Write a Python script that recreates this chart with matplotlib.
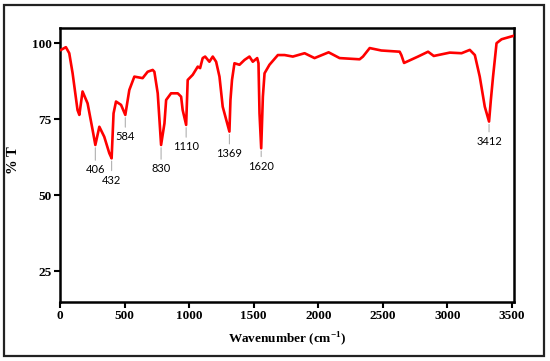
import matplotlib.pyplot as plt
from matplotlib.patches import Rectangle

plt.rcParams['mathtext.fontset'] = 'custom'
plt.rcParams['mathtext.rm'] = 'Liberation Serif:bold'

# FTIR spectrum
wavenumber = [8, 46, 72, 98, 136, 150, 175, 214, 253, 274, 305, 343, 382, 400,
              415, 434, 473, 506, 537, 576, 640, 679, 718, 731, 757, 783, 809,
              822, 860, 912, 938, 950, 977, 989, 1028, 1067, 1085, 1105, 1124,
              1157, 1183, 1209, 1235, 1260, 1312, 1320, 1332, 1351, 1390, 1429,
              1467, 1493, 1527, 1537, 1545, 1558, 1571, 1584, 1622, 1687, 1739,
              1803, 1894, 1971, 2080, 2165, 2320, 2346, 2398, 2488, 2630, 2643,
              2664, 2772, 2850, 2894, 3018, 3109, 3173, 3212, 3250, 3289, 3322,
              3336, 3353, 3380, 3419, 3509]
transmittance = [97.8, 98.7, 96.7, 90.1, 78.0, 76.4, 84.1, 80.2, 71.4, 66.5, 72.5,
                 69.2, 63.8, 62.1, 76.9, 80.8, 79.7, 76.4, 84.6, 89.0, 88.5, 90.6,
                 91.2, 90.6, 83.5, 66.5, 73.6, 81.3, 83.5, 83.5, 82.4, 78.0, 73.1,
                 87.9, 89.6, 92.3, 91.8, 95.1, 95.6, 93.9, 95.6, 93.9, 89.0, 79.1,
                 70.9, 81.3, 87.9, 93.4, 92.9, 94.5, 95.6, 93.9, 95.1, 93.4, 76.9,
                 65.4, 82.4, 90.1, 92.9, 96.1, 96.1, 95.6, 96.7, 95.1, 97.0, 95.1,
                 94.7, 95.6, 98.4, 97.6, 97.2, 96.1, 93.5, 95.6, 97.2, 95.8, 96.9,
                 96.7, 97.8, 96.1, 89.0, 79.1, 74.2, 81.3, 89.0, 100.0, 101.3, 102.4]

# peak labels (label text, position of the minimum on the plotted axis)
peak_text = ['406', '432', '584', '830', '1110', '1369', '1620', '3412']
peak_wn = [274, 400, 506, 783, 977, 1312, 1558, 3322]
peak_T = [66.5, 62.1, 76.4, 66.5, 73.1, 70.9, 65.4, 74.2]
peak_drop = [25, 22, 22, 24, 22, 22, 18, 20]  # px below minimum

x_ticks = [0, 500, 1000, 1500, 2000, 2500, 3000, 3500]
y_ticks = [25, 50, 75, 100]

serif = {'family': 'Liberation Serif', 'weight': 'bold'}

fig = plt.figure(figsize=(5.5, 3.61), dpi=100)
ax = fig.add_axes([0.109, 0.1634, 0.8255, 0.759])

ax.plot(wavenumber, transmittance, color='#ff0000', linewidth=1.9,
        solid_joinstyle='round', zorder=3)

for txt, x, y, d in zip(peak_text, peak_wn, peak_T, peak_drop):
    pt = d / 100 * 72
    ax.annotate('', xy=(x, y), xytext=(0, -(pt - 5)), textcoords='offset points',
                arrowprops=dict(arrowstyle='-', color='#b0b0b0', lw=0.8))
    ax.annotate(txt, xy=(x, y), xytext=(0, -pt), textcoords='offset points',
                ha='center', va='center', fontsize=8, family='Lato')

ax.set_xlim(0, 3515)
ax.set_ylim(14.8, 105)
ax.set_xticks(x_ticks)
ax.set_yticks(y_ticks)
ax.set_xticklabels([str(t) for t in x_ticks], fontdict=dict(serif, size=9.5))
ax.set_yticklabels([str(t) for t in y_ticks], fontdict=dict(serif, size=9.5))
ax.tick_params(direction='out', length=4, width=1.5, pad=2)

for s in ax.spines.values():
    s.set_linewidth(1.8)

ax.set_xlabel('Wavenumber (cm$^{\\mathregular{-1}}$)', fontdict=dict(serif, size=9.5), labelpad=6)
ax.set_ylabel('% T', fontdict=dict(serif, size=10.5))
ax.yaxis.set_label_coords(-0.088, 0.518)

# outer frame
fig.patches.append(Rectangle((4 / 550, 5 / 361), 540 / 550, 351 / 361,
                             transform=fig.transFigure, fill=False,
                             edgecolor='#222222', linewidth=1.6))

fig.savefig('out.png', dpi=100)
